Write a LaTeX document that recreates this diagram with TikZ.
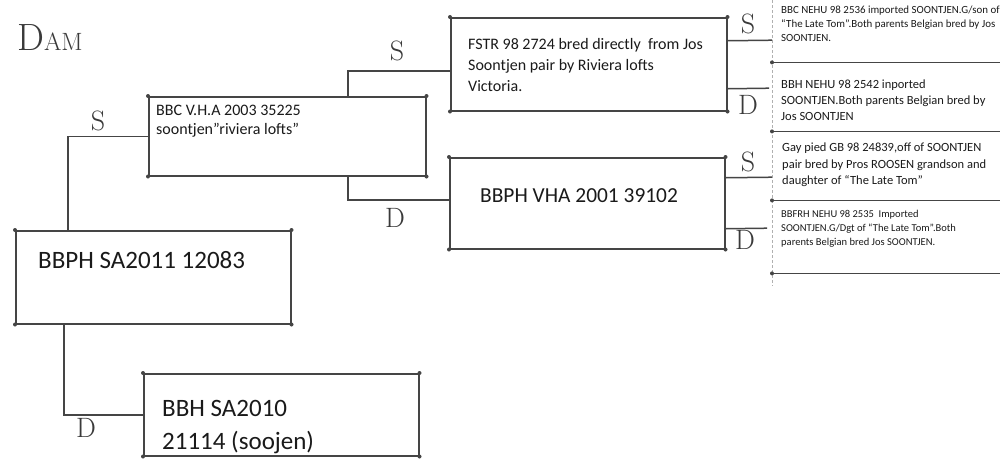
\documentclass[tikz,border=0pt]{standalone}
\usepackage{fontspec}
\newfontfamily\calfont{Carlito}
\definecolor{boxc}{HTML}{454545}
\definecolor{txtc}{HTML}{1A1A1A}
\definecolor{handc}{HTML}{3A3A3A}
\definecolor{edgec}{HTML}{B0B0B0}
\tikzset{
  box/.style={draw=boxc, line width=1.5pt, rectangle, inner sep=0pt, anchor=north west},
  rbox/.style={draw=none, rectangle, inner sep=0pt, anchor=north west, minimum width=233pt},
  conn/.style={draw=boxc, line width=1.5pt},
  rline/.style={draw=boxc, line width=1.3pt},
  redge/.style={draw=edgec, line width=0.8pt, dash pattern=on 3pt off 2pt},
  txt/.style={inner sep=0pt, text=txtc, align=left, anchor=north west},
  hand/.style={inner sep=0pt, text=handc, font=\fontsize{28}{28}\selectfont},
  dotc/.style={fill=boxc}
}
\begin{document}
\begin{tikzpicture}[x=1pt,y=-1pt]
\useasboundingbox[fill=white] (0,0) rectangle (1000,459);

% title
\node[inner sep=0pt, text=handc, anchor=west] (title) at (17,38)
  {{\fontsize{38}{38}\selectfont D}{\fontsize{25}{25}\selectfont AM}};

% main boxes
\node[box, minimum width=275pt, minimum height=93pt] (root) at (15,230) {};
\node[box, minimum width=277pt, minimum height=79pt] (sire) at (148,96) {};
\node[box, minimum width=275pt, minimum height=82pt] (dam) at (143,373) {};
\node[box, minimum width=276pt, minimum height=93pt] (fstr) at (450,17) {};
\node[box, minimum width=275pt, minimum height=91pt] (vha) at (449,157) {};

% texts in main boxes
\node[txt, anchor=west, font=\calfont\fontsize{25}{30}\selectfont] (troot) at (38,260) {BBPH SA2011 12083};
\node[txt, font=\calfont\fontsize{16}{19}\selectfont] (tsire) at (156,105) {BBC V.H.A 2003 35225\\soontjen”riviera lofts”};
\node[txt, font=\calfont\fontsize{25}{33}\selectfont] (tdam) at (162,400) {BBH SA2010\\21114 (soojen)};
\node[txt, font=\calfont\fontsize{16}{21}\selectfont] (tfstr) at (468,38) {FSTR 98 2724 bred directly~ from Jos\\Soontjen pair by Riviera lofts\\Victoria.};
\node[txt, anchor=west, font=\calfont\fontsize{21.4}{26}\selectfont] (tvha) at (480,196) {BBPH VHA 2001 39102};

% right column boxes
\node[rbox, minimum height=67pt] (r1) at (772,-5) {};
\node[rbox, minimum height=69pt] (r2) at (772,62) {};
\node[rbox, minimum height=69pt] (r3) at (772,131) {};
\node[rbox, minimum height=73pt] (r4) at (772,200) {};
\draw[redge] (r1.north west) -- ([yshift=-12pt]r4.south west);
\foreach \b in {r1,r2,r3,r4}{
  \draw[rline] (\b.south west) -- (\b.south east);
  \fill[dotc] (\b.south west) circle (2pt);
}

\node[txt, font=\calfont\fontsize{10.9}{14}\selectfont] (tr1) at (781,6) {BBC NEHU 98 2536 imported SOONTJEN.G/son of\\“The Late Tom”.Both parents Belgian bred by Jos\\SOONTJEN.};
\node[txt, font=\calfont\fontsize{12.5}{16}\selectfont] (tr2) at (781,80) {BBH NEHU 98 2542 inported\\SOONTJEN.Both parents Belgian bred by\\Jos SOONTJEN};
\node[txt, font=\calfont\fontsize{12.5}{16.5}\selectfont] (tr3) at (782,143) {Gay pied GB 98 24839,off of SOONTJEN\\pair bred by Pros ROOSEN grandson and\\daughter of “The Late Tom”};
\node[txt, font=\calfont\fontsize{10.5}{14}\selectfont] (tr4) at (781,210) {BBFRH NEHU 98 2535~ Imported\\SOONTJEN.G/Dgt of “The Late Tom”.Both\\parents Belgian bred Jos SOONTJEN.};

% connectors
\draw[conn] ([xshift=53pt]root.north west) |- (sire.west);
\draw[conn] ([xshift=49pt]root.south west) |- (dam.west);
\draw[conn] ([xshift=200pt]sire.north west) |- ([yshift=-6.5pt]fstr.west);
\draw[conn] ([xshift=200pt]sire.south west) |- ([yshift=3.5pt]vha.west);
\draw[conn] ([yshift=23.5pt]fstr.east) -- ([yshift=-11.5pt]r1.west);
\draw[conn] ([yshift=-24.5pt]fstr.east) -- ([yshift=8.5pt,xshift=-3pt]r2.west);
\draw[conn] ([yshift=25.5pt]vha.east) -- ([yshift=-11.5pt]r3.west);
\draw[conn] ([yshift=-25.5pt]vha.east) -- ([yshift=8.5pt,xshift=-5pt]r4.west);

% corner dots
\foreach \b in {root,sire,dam,fstr,vha}{
  \foreach \a in {north west,north east,south west,south east}{
    \fill[dotc] (\b.\a) circle (2pt);
  }
}

% S / D labels
\node[hand] (s1) at (98,121) {S};
\node[hand] (d1) at (86,428) {D};
\node[hand] (s2) at (397,51) {S};
\node[hand] (d2) at (395,218) {D};
\node[hand] (s3) at (748,24) {S};
\node[hand] (d3) at (748,105) {D};
\node[hand] (s4) at (748,162) {S};
\node[hand] (d4) at (745,240) {D};
\end{tikzpicture}
\end{document}
